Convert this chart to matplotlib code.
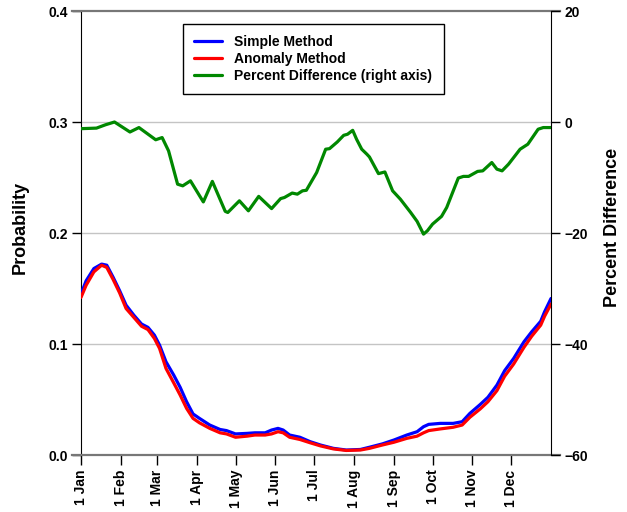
"""Seasonal probability from the simple and anomaly methods, with their percent difference."""

import matplotlib
matplotlib.use('Agg')
import matplotlib.pyplot as plt

plt.rcParams['font.family'] = ['Liberation Sans', 'DejaVu Sans']
plt.rcParams['font.weight'] = 'bold'

# Day of year for each month start, and its label
month_days = [0, 31, 59, 90, 120, 151, 181, 212, 243, 273, 304, 334]
month_labels = ['1 Jan', '1 Feb', '1 Mar', '1 Apr', '1 May', '1 Jun',
                '1 Jul', '1 Aug', '1 Sep', '1 Oct', '1 Nov', '1 Dec']

# Probability curves (left axis)
prob_days = [0, 4, 10, 16, 20, 25, 30, 35, 41, 47, 52, 57, 61, 66, 72, 77, 82,
             87, 92, 100, 108, 113, 120, 129, 135, 143, 148, 153, 157, 162,
             170, 178, 186, 196, 206, 217, 224, 234, 243, 253, 261, 266, 270,
             279, 289, 296, 302, 310, 316, 323, 329, 336, 344, 350, 357, 360,
             365]
simple_prob = [0.145, 0.157, 0.168, 0.172, 0.171, 0.160, 0.148, 0.135, 0.126,
               0.118, 0.115, 0.108, 0.099, 0.084, 0.072, 0.061, 0.048, 0.037,
               0.033, 0.027, 0.023, 0.022, 0.019, 0.0195, 0.020, 0.020, 0.0225,
               0.024, 0.0225, 0.018, 0.016, 0.012, 0.009, 0.006, 0.0045, 0.005,
               0.007, 0.010, 0.0135, 0.018, 0.021, 0.0255, 0.0276, 0.0285,
               0.0285, 0.030, 0.0375, 0.0455, 0.052, 0.063, 0.076, 0.087, 0.102,
               0.111, 0.1205, 0.129, 0.141]
anomaly_prob = [0.142, 0.153, 0.165, 0.171, 0.169, 0.158, 0.146, 0.132, 0.124,
                0.116, 0.113, 0.105, 0.096, 0.078, 0.065, 0.054, 0.042, 0.033,
                0.029, 0.024, 0.020, 0.019, 0.016, 0.017, 0.018, 0.018, 0.019,
                0.021, 0.020, 0.016, 0.014, 0.011, 0.0082, 0.0055, 0.0041,
                0.0045, 0.006, 0.009, 0.0115, 0.015, 0.017, 0.020, 0.022, 0.0235,
                0.025, 0.027, 0.034, 0.0415, 0.048, 0.058, 0.071, 0.082, 0.097,
                0.107, 0.117, 0.125, 0.136]

# Percent difference (right axis)
pct_days = [0, 12, 19, 26, 38, 45, 58, 63, 68, 75, 79, 85, 95, 102, 112, 114,
            123, 130, 138, 148, 155, 158, 164, 168, 172, 175, 183, 190, 193,
            199, 204, 207, 211, 214, 218, 222, 224, 231, 236, 242, 248, 256,
            261, 266, 269, 273, 280, 284, 293, 297, 301, 308, 312, 319, 323,
            327, 332, 341, 347, 355, 359, 365]
pct_diff = [-1.2, -1.1, -0.5, 0.0, -1.8, -1.0, -3.2, -2.8, -5.2, -11.2, -11.5,
            -10.6, -14.4, -10.7, -16.1, -16.3, -14.2, -16.0, -13.4, -15.6,
            -13.8, -13.6, -12.8, -13.0, -12.4, -12.3, -9.1, -4.9, -4.8, -3.6,
            -2.4, -2.2, -1.5, -3.1, -4.9, -5.8, -6.3, -9.3, -9.0, -12.4, -13.9,
            -16.3, -17.9, -20.2, -19.6, -18.4, -17.0, -15.4, -10.1, -9.8, -9.8,
            -8.9, -8.8, -7.3, -8.5, -8.8, -7.6, -4.9, -4.0, -1.3, -1.0, -1.0]


fig = plt.figure(figsize=(6.27, 5.12), dpi=100)
ax = fig.add_axes([0.1292, 0.1113, 0.7496, 0.8672])
ax2 = ax.twinx()

# horizontal grid
for y in [0.1, 0.2, 0.3]:
    ax.axhline(y, color='#c4c4c4', linewidth=1.0, zorder=0)

line_kw = dict(linewidth=2.3, solid_joinstyle='round', solid_capstyle='round')
ln_s, = ax.plot(prob_days, simple_prob, color='#0000ff', zorder=3, **line_kw)
ln_a, = ax.plot(prob_days, anomaly_prob, color='#ff0000', zorder=4, **line_kw)
ln_p, = ax2.plot(pct_days, pct_diff, color='#008800', **line_kw)

ax.set_xlim(0, 365)
ax.set_ylim(0, 0.4)
ax2.set_ylim(-60, 20)

ax.set_xticks(month_days)
ax.set_xticklabels(month_labels, rotation=90, fontsize=10, fontweight='bold')
ax.set_yticks([0.0, 0.1, 0.2, 0.3, 0.4])
ax.set_yticklabels(['0.0', '0.1', '0.2', '0.3', '0.4'], fontsize=10, fontweight='bold')
ax2.set_yticks([-60, -40, -20, 0, 20])
ax2.set_yticklabels(['\u221260', '\u221240', '\u221220', '0', '20'],
                    fontsize=10, fontweight='bold')

ax.tick_params(axis='x', direction='out', length=7.5, width=1, pad=3)
ax.tick_params(axis='y', direction='out', length=6.5, width=1, pad=3)
ax2.tick_params(axis='y', direction='out', length=6.5, width=1, pad=3)

for a in (ax, ax2):
    a.spines['top'].set_visible(False)
    a.spines['bottom'].set_visible(False)
ax.spines['right'].set_visible(False)
ax2.spines['left'].set_visible(False)

# top and bottom frame lines run out over the tick marks
ext = 0.02
for yy in (0, 1):
    ax.plot([-ext, 1 + ext], [yy, yy], transform=ax.transAxes, color='#777777',
            linewidth=1.6, clip_on=False, zorder=5)

ax.set_ylabel('Probability', fontsize=13, fontweight='bold')
ax.yaxis.set_label_coords(-0.112, 0.512)
ax2.set_ylabel('Percent Difference', fontsize=13, fontweight='bold')
ax2.yaxis.set_label_coords(1.112, 0.512)

leg = ax2.legend([ln_s, ln_a, ln_p],
                 ['Simple Method', 'Anomaly Method', 'Percent Difference (right axis)'],
                 loc='upper left', bbox_to_anchor=(183 / 627, 1 - 24 / 512),
                 bbox_transform=fig.transFigure, fontsize=10, frameon=True,
                 fancybox=False, edgecolor='black', framealpha=1,
                 handlelength=2.0, handletextpad=0.9, borderpad=0.8,
                 labelspacing=0.2, borderaxespad=0)
leg.get_frame().set_linewidth(1.0)
for t in leg.get_texts():
    t.set_fontweight('bold')

fig.savefig('out.png', dpi=100)
